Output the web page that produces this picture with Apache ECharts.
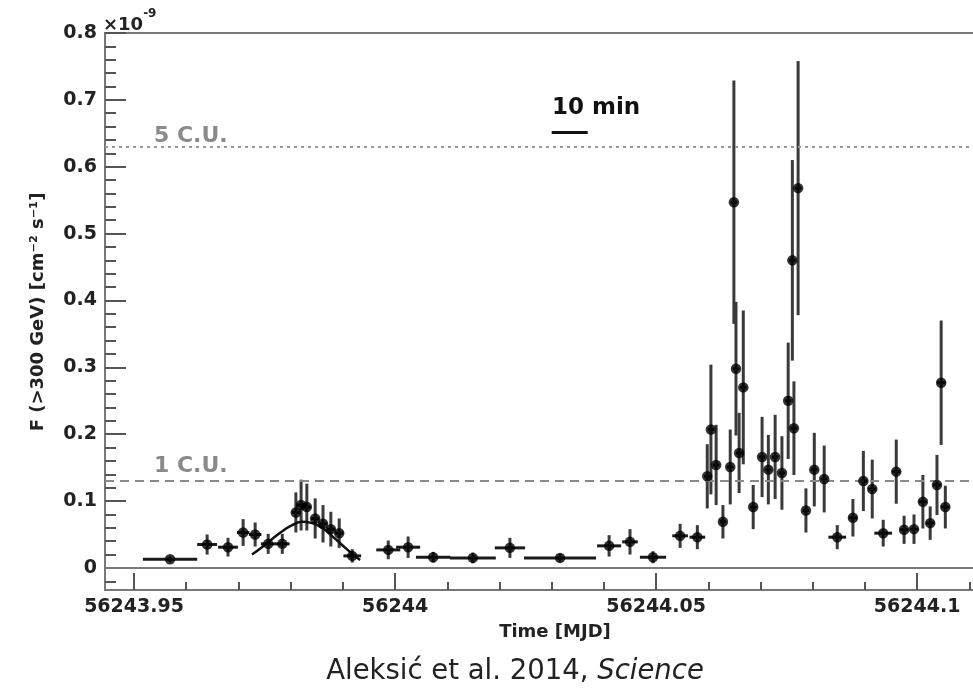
<!DOCTYPE html>
<html>
<head>
<meta charset="utf-8">
<script src="https://cdn.jsdelivr.net/npm/echarts@6.0.0/dist/echarts.min.js"></script>
<style>
  html, body { margin: 0; padding: 0; background: #fff; }
  #lightcurve { width: 973px; height: 694px; }
</style>
</head>
<body>
<div id="lightcurve"></div>
<script>
// light curve points (MJD, flux in 1e-9 cm^-2 s^-1) with time-bin half widths and flux errors
var mjd = [
  56243.9569, 56243.9640, 56243.9680, 56243.9709, 56243.9732, 56243.9757, 56243.9784,
  56243.9810, 56243.9820, 56243.9831, 56243.9847, 56243.9862, 56243.9877, 56243.9893,
  56243.9918, 56243.9987, 56244.0025, 56244.0073, 56244.0149, 56244.0220, 56244.0316,
  56244.0410, 56244.0450, 56244.0494, 56244.0546, 56244.0579, 56244.0598, 56244.0605,
  56244.0615, 56244.0628, 56244.0642, 56244.0649, 56244.0653, 56244.0659, 56244.0667,
  56244.0686, 56244.0703, 56244.0715, 56244.0728, 56244.0741, 56244.0753, 56244.0761,
  56244.0764, 56244.0772, 56244.0787, 56244.0803, 56244.0822, 56244.0847, 56244.0877,
  56244.0897, 56244.0914, 56244.0935, 56244.0960, 56244.0975, 56244.0994, 56244.1011,
  56244.1025, 56244.1038, 56244.1046, 56244.1054
];
var flux = [
  0.013, 0.035, 0.031, 0.053, 0.050, 0.036, 0.036,
  0.083, 0.094, 0.091, 0.074, 0.066, 0.058, 0.052,
  0.018, 0.027, 0.031, 0.016, 0.015, 0.030, 0.015,
  0.033, 0.039, 0.016, 0.048, 0.046, 0.137, 0.207,
  0.154, 0.069, 0.151, 0.547, 0.298, 0.172, 0.270,
  0.091, 0.166, 0.147, 0.166, 0.142, 0.250, 0.460,
  0.209, 0.568, 0.086, 0.147, 0.133, 0.046, 0.075,
  0.130, 0.118, 0.052, 0.144, 0.057, 0.058, 0.099,
  0.067, 0.124, 0.277, 0.091
];
var mjdErr = [
  0.0052, 0.0019, 0.0019, 0.0012, 0.0012, 0.0014, 0.0014,
  0.0008, 0.0008, 0.0008, 0.0008, 0.0008, 0.0008, 0.0008,
  0.0017, 0.0023, 0.0023, 0.0033, 0.0044, 0.0029, 0.0069,
  0.0023, 0.0015, 0.0025, 0.0015, 0.0015, 0.0006, 0.0006,
  0.0006, 0.0006, 0.0006, 0.0006, 0.0006, 0.0006, 0.0006,
  0.0006, 0.0006, 0.0006, 0.0006, 0.0006, 0.0006, 0.0006,
  0.0006, 0.0006, 0.0006, 0.0006, 0.0006, 0.0017, 0.0008,
  0.0008, 0.0008, 0.0017, 0.0008, 0.0008, 0.0008, 0.0008,
  0.0008, 0.0008, 0.0008, 0.0008
];
var fluxErr = [
  0.004, 0.015, 0.014, 0.020, 0.018, 0.015, 0.015,
  0.030, 0.038, 0.035, 0.030, 0.028, 0.026, 0.022,
  0.010, 0.014, 0.016, 0.008, 0.008, 0.015, 0.006,
  0.016, 0.019, 0.009, 0.018, 0.018, 0.048, 0.097,
  0.060, 0.025, 0.056, 0.182, 0.100, 0.060, 0.115,
  0.033, 0.060, 0.052, 0.063, 0.055, 0.087, 0.150,
  0.070, 0.190, 0.033, 0.055, 0.050, 0.018, 0.028,
  0.045, 0.044, 0.020, 0.048, 0.021, 0.022, 0.040,
  0.025, 0.045, 0.093, 0.032
];

// fitted flare profile
var fitMjd = [56243.9726, 56243.9745, 56243.9764, 56243.9784, 56243.9803, 56243.9822,
              56243.9841, 56243.9860, 56243.9879, 56243.9899, 56243.9918, 56243.9933];
var fitFlux = [0.020, 0.031, 0.043, 0.055, 0.064, 0.069,
               0.067, 0.060, 0.048, 0.034, 0.021, 0.012];

var xTicks = [56243.95, 56244, 56244.05, 56244.1];
var xMinorTicks = [56243.95, 56243.96, 56243.97, 56243.98, 56243.99, 56244, 56244.01, 56244.02,
                   56244.03, 56244.04, 56244.05, 56244.06, 56244.07, 56244.08, 56244.09, 56244.1, 56244.11];
var yTicks = [0, 0.1, 0.2, 0.3, 0.4, 0.5, 0.6, 0.7, 0.8];
var yMinorTicks = [-0.02, 0, 0.02, 0.04, 0.06, 0.08, 0.1, 0.12, 0.14, 0.16, 0.18, 0.2, 0.22, 0.24,
                   0.26, 0.28, 0.3, 0.32, 0.34, 0.36, 0.38, 0.4, 0.42, 0.44, 0.46, 0.48, 0.5, 0.52,
                   0.54, 0.56, 0.58, 0.6, 0.62, 0.64, 0.66, 0.68, 0.7, 0.72, 0.74, 0.76, 0.78, 0.8];

var crabOne = 0.125;
var crabFive = 0.625;
var scaleBar = [56244.0300, 56244.0369]; // 10 min
var scaleBarY = 0.652;

// the frame runs past the right edge of the picture
var xMin = 56243.94444, xMax = 56244.1107;
var yMin = -0.033, yMax = 0.8;

var boldFont = 'DejaVu Sans';
var frameLine = { show: true, onZero: false, lineStyle: { color: '#777', width: 2 } };
var tickLine = { color: '#555', width: 2 };
var points = mjd.map(function (t, i) { return [t, flux[i], mjdErr[i], fluxErr[i]]; });
var fitLine = fitMjd.map(function (t, i) { return [t, fitFlux[i]]; });

var chart = echarts.init(document.getElementById('lightcurve'));

var option = {
  animation: false,
  grid: { left: 105, top: 33, right: 0, bottom: 104 },
  xAxis: [
    {
      type: 'value', min: xMin, max: xMax, position: 'bottom',
      axisLine: frameLine,
      splitLine: { show: false },
      axisTick: { show: true, inside: true, length: 17, customValues: xTicks, lineStyle: tickLine },
      axisLabel: {
        customValues: xTicks, margin: 8, color: '#222',
        fontFamily: boldFont, fontWeight: 'bold', fontSize: 19,
        formatter: function (v) { return +v.toFixed(2) + ''; }
      }
    },
    {
      type: 'value', min: xMin, max: xMax, position: 'bottom',
      axisLine: { show: false, onZero: false },
      splitLine: { show: false },
      axisLabel: { show: false },
      axisTick: { show: true, inside: true, length: 8, customValues: xMinorTicks, lineStyle: tickLine }
    },
    {
      type: 'value', min: xMin, max: xMax, position: 'top',
      axisLine: frameLine,
      splitLine: { show: false },
      axisLabel: { show: false },
      axisTick: { show: false }
    }
  ],
  yAxis: [
    {
      type: 'value', min: yMin, max: yMax, position: 'left',
      axisLine: frameLine,
      splitLine: { show: false },
      axisTick: { show: true, inside: true, length: 21, customValues: yTicks, lineStyle: tickLine },
      axisLabel: {
        customValues: yTicks, margin: 8, color: '#222',
        fontFamily: boldFont, fontWeight: 'bold', fontSize: 19,
        formatter: function (v) { return +v.toFixed(1) + ''; }
      }
    },
    {
      type: 'value', min: yMin, max: yMax, position: 'left',
      axisLine: { show: false, onZero: false },
      splitLine: { show: false },
      axisLabel: { show: false },
      axisTick: { show: true, inside: true, length: 11, customValues: yMinorTicks, lineStyle: tickLine }
    }
  ],
  graphic: [
    {
      type: 'text', left: 103, top: 8,
      style: {
        text: '{a|×10}{b|-9}',
        rich: {
          a: { fontFamily: boldFont, fontWeight: 'bold', fontSize: 18, fill: '#222', verticalAlign: 'bottom', lineHeight: 26 },
          b: { fontFamily: boldFont, fontWeight: 'bold', fontSize: 12, fill: '#222', verticalAlign: 'top', lineHeight: 26 }
        }
      }
    },
    {
      type: 'text', x: 154, y: 136,
      style: { text: '5 C.U.', fontFamily: boldFont, fontWeight: 'bold', fontSize: 22,
               fill: '#8a8a8a', verticalAlign: 'middle' }
    },
    {
      type: 'text', x: 154, y: 466,
      style: { text: '1 C.U.', fontFamily: boldFont, fontWeight: 'bold', fontSize: 22,
               fill: '#8a8a8a', verticalAlign: 'middle' }
    },
    {
      type: 'text', x: 552, y: 108,
      style: { text: '10 min', fontFamily: boldFont, fontWeight: 'bold', fontSize: 23,
               fill: '#111', verticalAlign: 'middle' }
    },
    {
      type: 'text', x: 38, y: 312, rotation: Math.PI / 2,
      style: { text: 'F (>300 GeV) [cm⁻² s⁻¹]', fontFamily: boldFont, fontWeight: 'bold', fontSize: 18,
               fill: '#222', align: 'center', verticalAlign: 'middle' }
    },
    {
      type: 'text', x: 555, y: 632,
      style: { text: 'Time [MJD]', fontFamily: boldFont, fontWeight: 'bold', fontSize: 18,
               fill: '#222', align: 'center', verticalAlign: 'middle' }
    },
    {
      type: 'text', x: 515, y: 672,
      style: {
        text: '{n|Aleksić et al. 2014, }{i|Science}',
        align: 'center', verticalAlign: 'middle',
        rich: {
          n: { fontFamily: 'DejaVu Sans', fontSize: 27.5, fill: '#222' },
          i: { fontFamily: 'DejaVu Sans', fontStyle: 'italic', fontSize: 27.5, fill: '#222' }
        }
      }
    }
  ],
  series: [
    {
      type: 'custom', name: 'errors', xAxisIndex: 0, yAxisIndex: 0, clip: true, silent: true,
      data: points,
      encode: { x: 0, y: 1 },
      renderItem: function (params, api) {
        var t = api.value(0), f = api.value(1), dt = api.value(2), df = api.value(3);
        var l = api.coord([t - dt, f]), r = api.coord([t + dt, f]);
        var hi = api.coord([t, f + df]), lo = api.coord([t, f - df]);
        return {
          type: 'group',
          children: [
            { type: 'line', shape: { x1: l[0], y1: l[1], x2: r[0], y2: r[1] },
              style: { stroke: '#1a1a1a', lineWidth: 3 } },
            { type: 'line', shape: { x1: hi[0], y1: hi[1], x2: lo[0], y2: lo[1] },
              style: { stroke: '#3a3a3a', lineWidth: 3 } }
          ]
        };
      },
      z: 3
    },
    {
      type: 'line', name: 'fit', xAxisIndex: 0, yAxisIndex: 0,
      data: fitLine, smooth: true, showSymbol: false, silent: true,
      lineStyle: { color: '#111', width: 2.5 },
      z: 4
    },
    {
      type: 'scatter', name: 'flux', xAxisIndex: 0, yAxisIndex: 0,
      data: points.map(function (p) { return [p[0], p[1]]; }),
      symbol: 'circle', symbolSize: 10.5, silent: true,
      itemStyle: { color: '#000' },
      z: 5,
      markLine: {
        silent: true, symbol: 'none', animation: false,
        label: { show: false },
        data: [
          { yAxis: 0, lineStyle: { color: '#7a7a7a', width: 2, type: 'solid' } },
          { yAxis: crabOne, lineStyle: { color: '#8a8a8a', width: 2, type: [9, 6] } },
          { yAxis: crabFive, lineStyle: { color: '#9a9a9a', width: 2, type: [3, 4] } },
          [
            { coord: [scaleBar[0], scaleBarY], lineStyle: { color: '#111', width: 3, type: 'solid' } },
            { coord: [scaleBar[1], scaleBarY] }
          ]
        ]
      }
    }
  ]
};

chart.setOption(option);
window.addEventListener('resize', chart.resize);
</script>
</body>
</html>
